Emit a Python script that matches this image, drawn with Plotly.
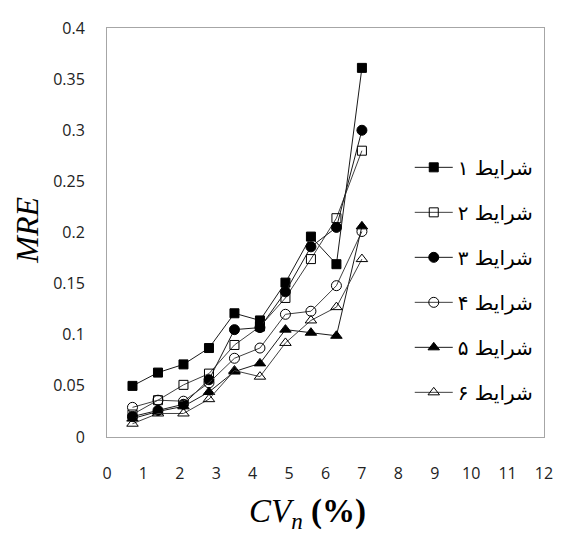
import plotly.graph_objects as go

cv_n = [0.7, 1.4, 2.1, 2.8, 3.5, 4.2, 4.9, 5.6, 6.3, 7.0]
mre_1 = [0.050, 0.063, 0.071, 0.087, 0.121, 0.114, 0.151, 0.196, 0.169, 0.361]
mre_2 = [0.022, 0.036, 0.051, 0.062, 0.090, 0.108, 0.136, 0.174, 0.214, 0.280]
mre_3 = [0.020, 0.026, 0.032, 0.056, 0.105, 0.107, 0.142, 0.186, 0.205, 0.300]
mre_4 = [0.029, 0.036, 0.035, 0.053, 0.077, 0.087, 0.120, 0.123, 0.148, 0.201]
mre_5 = [0.018, 0.025, 0.030, 0.044, 0.064, 0.072, 0.105, 0.102, 0.099, 0.206]
mre_6 = [0.013, 0.023, 0.023, 0.037, 0.065, 0.059, 0.092, 0.114, 0.127, 0.174]

names = ["شرایط ۱", "شرایط ۲", "شرایط ۳", "شرایط ۴", "شرایط ۵", "شرایط ۶"]
series = [mre_1, mre_2, mre_3, mre_4, mre_5, mre_6]
symbols = ["square", "square-open", "circle", "circle-open", "triangle-up", "triangle-up-open"]
sizes = [9, 9, 10, 10, 10, 10]
line_colors = ["#1a1a1a", "#404040", "#1a1a1a", "#404040", "#1a1a1a", "#404040"]

fig = go.Figure()
for i, (nm, ys) in enumerate(zip(names, series)):
    fig.add_trace(go.Scatter(
        x=cv_n, y=ys, name=nm, mode="lines+markers",
        legendgroup="g%d" % i,
        line=dict(color=line_colors[i], width=1),
        marker=dict(symbol=symbols[i], size=sizes[i], color="#000000",
                    line=dict(color="#000000", width=1)),
    ))

# page body adds an 8px offset, so the figure is sized to fill the rest
fig.update_layout(
    width=554, height=525,
    margin=dict(l=99, r=9, t=14, b=96),
    paper_bgcolor="white", plot_bgcolor="white",
    showlegend=True,
    legend=dict(
        x=(416 - 107) / 446, y=0.707, xanchor="left", yanchor="top",
        font=dict(family="DejaVu Sans", size=20, color="#000000"),
        bgcolor="rgba(0,0,0,0)", tracegroupgap=16, itemwidth=38,
        traceorder="grouped",
    ),
    font=dict(family="Open Sans", size=16, color="#222222"),
)
fig.update_xaxes(
    range=[0, 12], dtick=1, tick0=0, showgrid=False, zeroline=False,
    showline=True, mirror=True, linecolor="#a6a6a6", linewidth=1,
    ticks="", ticklabelstandoff=22,
    tickfont=dict(family="Open Sans", size=16, color="#222222"),
)
fig.update_yaxes(
    range=[0, 0.4], dtick=0.05, tick0=0, showgrid=False, zeroline=False,
    showline=True, mirror=True, linecolor="#a6a6a6", linewidth=1,
    ticks="", ticklabelstandoff=18,
    tickfont=dict(family="Open Sans", size=16, color="#222222"),
)

fig.add_annotation(
    text="<i>CV</i><sub><i>n</i></sub> <b>(%)</b>",
    xref="paper", yref="paper", x=(312 - 107) / 446, y=-(515 - 437) / 415,
    xanchor="center", yanchor="middle", showarrow=False,
    font=dict(family="Liberation Serif", size=33, color="#000000"),
)
fig.add_annotation(
    text="<i>MRE</i>",
    xref="paper", yref="paper", x=-(107 - 25) / 446, y=(437 - 227) / 415,
    xanchor="center", yanchor="middle", showarrow=False, textangle=-90,
    font=dict(family="Liberation Serif", size=32, color="#000000"),
)

fig.write_html("out.html")
